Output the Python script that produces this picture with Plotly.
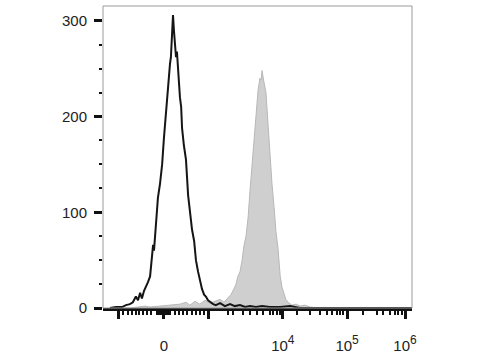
import plotly.graph_objects as go

# Display channel (biexponential-scaled axis, 0..1024) and event counts
black_ch = [23, 43, 63, 76, 89, 99, 109, 116, 123, 129, 136, 143, 149, 156, 162, 166, 169, 176, 182, 189,
            196, 202, 209, 215, 222, 225, 229, 232, 235, 239, 242, 245, 249, 255, 259, 262, 268, 275, 282, 288,
            295, 302, 308, 315, 321, 328, 335, 341, 348, 355, 365, 374, 388, 404, 421, 437, 454, 471, 487, 507,
            527, 553, 587, 620, 653, 719, 852, 1024]
black_counts = [0, 1, 1, 3, 4, 6, 12, 8, 16, 10, 18, 22, 27, 33, 50, 66, 60, 95, 115, 130,
                150, 178, 205, 236, 255, 262, 285, 306, 290, 272, 262, 268, 245, 220, 210, 188, 170, 155, 118, 100,
                82, 70, 50, 38, 28, 20, 14, 12, 8, 6, 4, 3, 5, 2, 4, 2, 3, 1, 2, 1,
                2, 1, 1, 2, 0, 0, 0, 0]

gray_ch = [23, 89, 116, 139, 156, 189, 222, 255, 275, 288, 305, 321, 338, 355, 371, 388, 401, 414, 424, 434,
           441, 447, 454, 461, 467, 474, 481, 487, 494, 500, 507, 510, 514, 520, 524, 527, 530, 534, 540, 547,
           554, 560, 567, 573, 580, 587, 593, 600, 606, 613, 626, 640, 653, 669, 686, 719, 1024]
gray_counts = [0, 0, 1, 2, 1, 2, 3, 4, 6, 3, 7, 4, 8, 5, 7, 9, 6, 10, 14, 20,
               25, 33, 38, 50, 65, 75, 95, 122, 150, 172, 198, 220, 228, 240, 238, 248, 240, 235, 225, 190,
               160, 130, 105, 80, 62, 34, 22, 14, 9, 6, 3, 4, 2, 3, 1, 0, 0]

sup = "<span style='font-size:12px'>%s</span>"
x_tickvals = [50, 202, 348, 596, 809, 1001]
x_ticktext = ["", "0", "", "10<sup>" + sup % "4" + "</sup>", "10<sup>" + sup % "5" + "</sup>",
              "10<sup>" + sup % "6" + "</sup>"]
x_minor = [66, 83, 96, 109, 119, 133, 146, 159,
           179, 184, 189, 194, 199, 204, 209, 214, 219, 222,
           239, 252, 265, 278, 295, 308, 321, 335,
           414, 431, 464, 487, 510, 530, 553, 563, 577, 587,
           643, 686, 719, 742, 759, 776, 785, 795,
           862, 908, 928, 951, 968, 978, 991]
y_tickvals = [0, 100, 200, 300]
y_minor = [25, 50, 75, 125, 150, 175, 225, 250, 275]

fig = go.Figure()
fig.add_trace(go.Scatter(x=gray_ch, y=gray_counts, mode="lines", fill="tozeroy",
                         fillcolor="#cfcfcf", line=dict(color="#b8b8b8", width=1)))
fig.add_trace(go.Scatter(x=black_ch, y=black_counts, mode="lines",
                         line=dict(color="#151515", width=2)))

font = dict(family="Liberation Sans, Arial, sans-serif", size=15, color="#222")
fig.update_layout(
    width=480, height=360,
    margin=dict(l=103, r=68, t=6, b=48),
    paper_bgcolor="white", plot_bgcolor="white",
    showlegend=False,
    font=font,
    shapes=[dict(type="rect", xref="paper", yref="paper", x0=0, x1=1, y0=0, y1=1,
                 line=dict(color="#9a9a9a", width=1), layer="above")],
)
fig.update_xaxes(range=[0, 1024], showgrid=False, zeroline=False,
                 showline=True, linecolor="#111", linewidth=2.5,
                 tickmode="array", tickvals=x_tickvals, ticktext=x_ticktext,
                 ticks="outside", ticklen=8, tickwidth=2.5, tickcolor="#111",
                 ticklabelstandoff=14,
                 minor=dict(tickmode="array", tickvals=x_minor, ticks="outside",
                            ticklen=4, tickwidth=1.5, tickcolor="#111", showgrid=False))
fig.update_yaxes(range=[0, 315.5], showgrid=False, zeroline=False,
                 showline=False,
                 tickmode="array", tickvals=y_tickvals,
                 ticks="outside", ticklen=8, tickwidth=2.5, tickcolor="#111",
                 ticklabelstandoff=4,
                 minor=dict(tickmode="array", tickvals=y_minor, ticks="outside",
                            ticklen=3, tickwidth=1.5, tickcolor="#111", showgrid=False))

fig.write_html("out.html")
